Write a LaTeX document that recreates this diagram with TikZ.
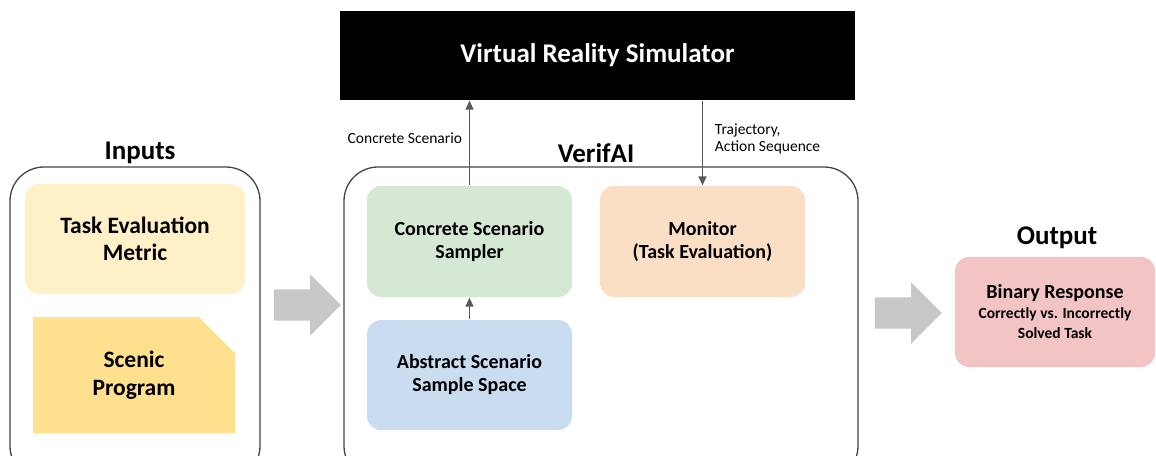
\documentclass[tikz,border=0pt]{standalone}
\usepackage{fontspec}
\setmainfont{Carlito}
\usetikzlibrary{arrows.meta, positioning, shapes.misc, shapes.arrows}
\definecolor{cyellow}{HTML}{FFF0C8}
\definecolor{cgold}{HTML}{FFE08F}
\definecolor{cgreen}{HTML}{D5E8D4}
\definecolor{cblue}{HTML}{C9DCF0}
\definecolor{corange}{HTML}{FADFC4}
\definecolor{cpink}{HTML}{F2C4C4}
\definecolor{cgrey}{HTML}{595959}
\definecolor{cframe}{HTML}{444444}
\definecolor{cblock}{HTML}{C8C8C8}
\tikzset{
  every picture/.style={line width=1.3pt},
  box/.style={fill=#1, rounded corners=14pt, align=center, inner sep=0pt,
    font=\bfseries\fontsize{20}{23}\selectfont, minimum width=205pt, minimum height=111pt},
  box/.default=cgreen,
  frame/.style={draw=cframe, rounded corners=34pt, minimum height=313pt},
  heading/.style={font=\bfseries\fontsize{27}{30}\selectfont},
  tag/.style={font=\fontsize{15.5}{17}\selectfont, align=left},
  flow/.style={-{Triangle[length=9pt, width=8pt]}, draw=cgrey, line width=1.4pt},
  block/.style={single arrow, fill=cblock, inner xsep=0pt, inner ysep=15pt, minimum height=67pt,
    single arrow head extend=15pt, single arrow tip angle=90},
}
\begin{document}
\begin{tikzpicture}[x=1pt, y=-1pt]
  \useasboundingbox (0,0) rectangle (1156,455);
  \node[fill=black, text=white, font=\bfseries\fontsize{27}{30}\selectfont,
    minimum width=515pt, minimum height=89pt] (sim) at (597.5,55.5) {Virtual Reality Simulator};

  \node[frame, minimum width=250pt] (inframe) at (135,323.5) {};
  \node[heading] (intitle) at (140,153) {Inputs};
  \node[box=cyellow, minimum width=220pt, minimum height=110pt, font=\bfseries\fontsize{23.5}{27}\selectfont]
    (metric) at (135,239) {Task Evaluation\\Metric};
  \node[box=cgold, rounded corners=0pt, chamfered rectangle, chamfered rectangle corners=north east,
    chamfered rectangle xsep=18pt, chamfered rectangle ysep=18pt,
    minimum width=202pt, minimum height=116pt, font=\bfseries\fontsize{23.5}{28}\selectfont]
    (scenic) at (134,375) {Scenic\\Program};

  \node[block] (inarrow) at (299.5,305) {};

  \node[frame, minimum width=514pt] (vframe) at (601,323.5) {};
  \node[heading] (vtitle) at (596,153) {VerifAI};
  \node[box=cgreen] (sampler) at (469.5,241.5) {Concrete Scenario\\Sampler};
  \node[box=cblue, minimum height=110pt] (space) at (469.5,375) {Abstract Scenario\\Sample Space};
  \node[box=corange] (monitor) at (702.5,241.5) {Monitor\\(Task Evaluation)};

  \draw[flow] (space) -- (sampler);
  \draw[flow] (sampler.north) -- (sampler.north |- sim.south);
  \draw[flow] (monitor.north |- sim.south) -- (monitor.north);
  \node[tag, anchor=east] (sent) at (466,138) {Concrete Scenario};
  \node[tag, anchor=west] (back) at (711,139) {Trajectory,\\Action Sequence};

  \node[block] (outarrow) at (900.5,313) {};

  \node[heading] (outtitle) at (1057,238) {Output};
  \node[box=cpink, minimum width=200pt, minimum height=110pt] (result) at (1055,312)
    {Binary Response\\[-3pt]{\fontsize{15.5}{18}\selectfont Correctly vs. Incorrectly}\\[-3pt]{\fontsize{15.5}{18}\selectfont Solved Task}};
\end{tikzpicture}
\end{document}
